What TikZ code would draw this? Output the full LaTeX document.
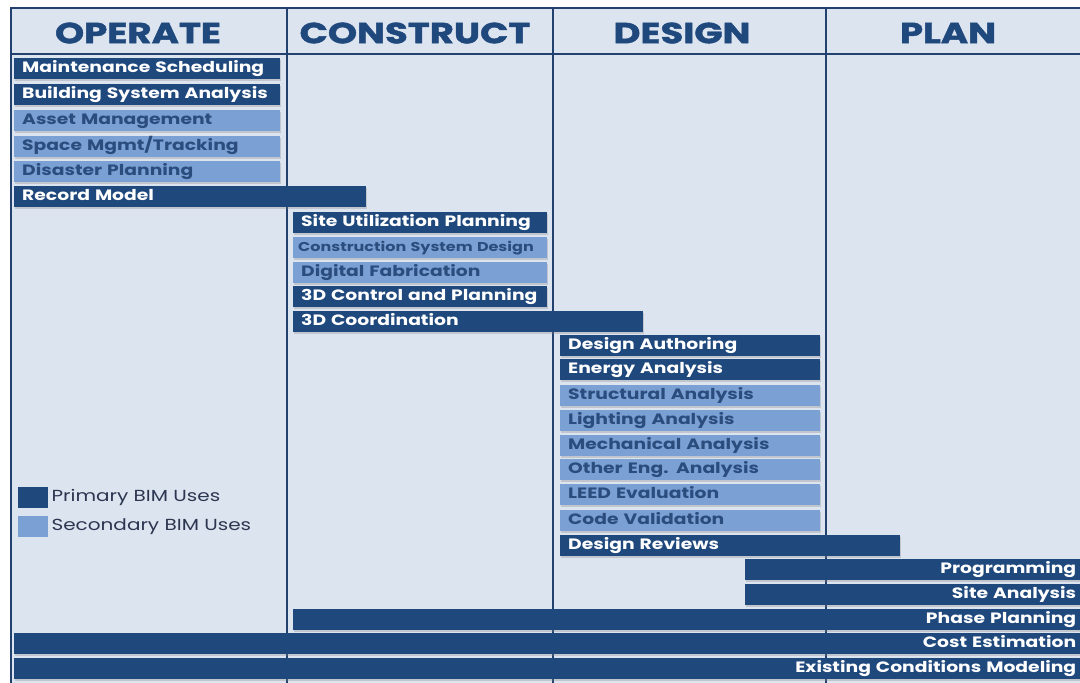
\documentclass[tikz,border=0pt]{standalone}
\usepackage{fontspec}
\setmainfont{Poppins}[FakeStretch=1.25]
\newfontfamily\headfont{Poppins}[FakeStretch=1.28,BoldFeatures={FakeBold=1.6}]
\usetikzlibrary{positioning,shadows}
\definecolor{bimbg}{HTML}{DCE4F0}
\definecolor{bimframe}{HTML}{22416E}
\definecolor{bimdark}{HTML}{1F487C}
\definecolor{bimlight}{HTML}{7AA0D4}
\definecolor{bimlighttext}{HTML}{2B4D7E}
\definecolor{bimkey}{HTML}{2C3650}
\tikzset{
	frame/.style={bimframe,line width=2.5pt},
	head/.style={text=bimdark,font=\headfont\bfseries\fontsize{29}{29}\selectfont},
	bar/.style={anchor=north west,minimum height=21pt,inner xsep=8pt,inner ysep=0pt,text height=11pt,text depth=3pt,align=left,font=\bfseries\fontsize{15}{15}\selectfont,drop shadow={opacity=0.3,shadow xshift=1pt,shadow yshift=-1.5pt}},
	pri/.style={bar,fill=bimdark,text=white},
	sec/.style={bar,fill=bimlight,text=bimlighttext},
	prir/.style={pri,align=right},
	keybox/.style={anchor=north west,minimum width=30pt,minimum height=21pt,inner sep=0pt},
	keytext/.style={text=bimkey,font=\fontsize{16}{16}\selectfont,inner sep=0pt}
}
\begin{document}
\begin{tikzpicture}[x=1pt,y=-1pt]
			\useasboundingbox (0,0) rectangle (1080,683);
			\fill[white] (0,0) rectangle (1080,683);
			\fill[bimbg] (11,8) rectangle (1080,683);
			\draw[frame] (1081,8) -- (11,8) -- (11,684);
			\draw[frame] (11,54) -- (1081,54);
			\draw[frame] (287,8) -- (287,684);
			\draw[frame] (553,8) -- (553,684);
			\draw[frame] (826,8) -- (826,684);
			\node[head] (operate) at (138,33) {OPERATE};
			\node[head] (construct) at (415,33) {CONSTRUCT};
			\node[head] (design) at (682,33) {DESIGN};
			\node[head] (plan) at (948,33) {PLAN};

			\node[pri,text width=250pt] (maint) at (14,58) {Maintenance Scheduling};
			\node[pri,text width=250pt] (bsa) at (14,84) {Building System Analysis};
			\node[sec,text width=250pt] (asset) at (14,110) {Asset Management};
			\node[sec,text width=250pt] (space) at (14,136) {Space Mgmt/Tracking};
			\node[sec,text width=250pt] (disaster) at (14,161) {Disaster Planning};
			\node[pri,text width=336pt] (record) at (14,186) {Record Model};

			\node[pri,text width=238pt] (siteuse) at (293,212) {Site Utilization Planning};
			\node[sec,text width=244pt,inner xsep=5pt,font=\bfseries\fontsize{12.8}{12.8}\selectfont] (csd) at (293,237) {Construction System Design};
			\node[sec,text width=238pt] (digfab) at (293,262) {Digital Fabrication};
			\node[pri,text width=238pt] (control) at (293,286) {3D Control and Planning};
			\node[pri,text width=334pt] (coord) at (293,311) {3D Coordination};

			\node[pri,text width=244pt] (authoring) at (560,335) {Design Authoring};
			\node[pri,text width=244pt] (energy) at (560,359) {Energy Analysis};
			\node[sec,text width=244pt] (structural) at (560,385) {Structural Analysis};
			\node[sec,text width=244pt] (lighting) at (560,410) {Lighting Analysis};
			\node[sec,text width=244pt] (mech) at (560,435) {Mechanical Analysis};
			\node[sec,text width=244pt] (other) at (560,459) {Other Eng. Analysis};
			\node[sec,text width=244pt] (leed) at (560,484) {LEED Evaluation};
			\node[sec,text width=244pt] (codeval) at (560,510) {Code Validation};
			\node[pri,text width=324pt] (reviews) at (560,535) {Design Reviews};

			\node[prir,text width=323pt] (programming) at (745,559) {Programming};
			\node[prir,text width=323pt] (siteana) at (745,584) {Site Analysis};
			\node[prir,text width=775pt] (phase) at (293,609) {Phase Planning};
			\node[prir,text width=1054pt] (cost) at (14,633) {Cost Estimation};
			\node[prir,text width=1054pt] (existing) at (14,658) {Existing Conditions Modeling};

			\node[keybox,fill=bimdark] (prikey) at (18,487) {};
			\node[keybox,fill=bimlight] (seckey) at (18,516) {};
			\node[keytext,right=3pt of prikey] (prilabel) {Primary BIM Uses};
			\node[keytext,right=3pt of seckey] (seclabel) {Secondary BIM Uses};
		\end{tikzpicture}
\end{document}
